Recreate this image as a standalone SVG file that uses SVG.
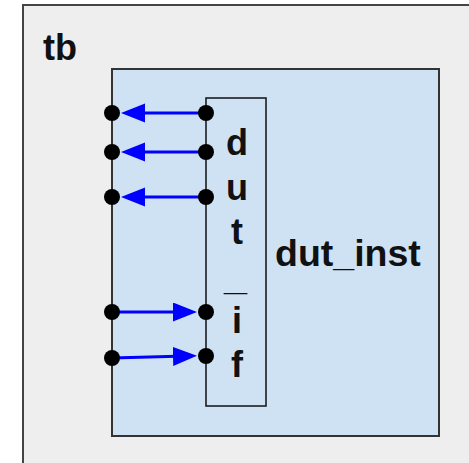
<svg xmlns="http://www.w3.org/2000/svg" width="469" height="463" viewBox="0 0 469 463">
<defs>
<style>
.lbl{font-family:"Liberation Sans",Arial,sans-serif;font-weight:bold;fill:#111}
.port{font-size:36px;text-anchor:middle}
.wire{stroke:#0000ff;stroke-width:3;fill:none}
.dot{fill:#000}
</style>
<marker id="ah" markerUnits="userSpaceOnUse" markerWidth="26" markerHeight="20" refX="4" refY="9.5" orient="auto">
<path d="M0,0 L24,9.5 L0,19 z" fill="#0000ff"/>
</marker>
</defs>
<rect width="469" height="463" fill="#ffffff"/>
<g id="tb">
<rect x="23" y="5" width="460" height="470" fill="#eeeeee" stroke="#444" stroke-width="2"/>
<text class="lbl" x="43" y="60" font-size="36">tb</text>
</g>
<g id="dut_inst">
<rect x="112" y="69" width="327" height="367" fill="#cfe2f3" stroke="#333" stroke-width="2"/>
<text class="lbl" x="275" y="266" font-size="37.5">dut_inst</text>
</g>
<g id="dut_if">
<rect x="206" y="98" width="60" height="308" fill="#cfe2f3" stroke="#111" stroke-width="1.5"/>
<text class="lbl port" x="237" y="155">d</text>
<text class="lbl port" x="237" y="200">u</text>
<text class="lbl port" x="237" y="244">t</text>
<text class="lbl port" x="224" y="290" textLength="23" lengthAdjust="spacingAndGlyphs" style="text-anchor:start">_</text>
<text class="lbl port" x="237" y="333">i</text>
<text class="lbl port" x="237" y="377">f</text>
</g>
<g id="connectors">
<line class="wire" x1="206" y1="113" x2="141" y2="113" marker-end="url(#ah)"/>
<line class="wire" x1="206" y1="152" x2="141" y2="152" marker-end="url(#ah)"/>
<line class="wire" x1="206" y1="197" x2="141" y2="197" marker-end="url(#ah)"/>
<line class="wire" x1="112" y1="312" x2="177" y2="312" marker-end="url(#ah)"/>
<line class="wire" x1="112" y1="358" x2="177" y2="356.3" marker-end="url(#ah)"/>
</g>
<g id="dots">
<circle class="dot" cx="112" cy="113" r="8"/>
<circle class="dot" cx="112" cy="152" r="8"/>
<circle class="dot" cx="112" cy="197" r="8"/>
<circle class="dot" cx="112" cy="312" r="8"/>
<circle class="dot" cx="112" cy="358" r="8"/>
<circle class="dot" cx="206" cy="113" r="8"/>
<circle class="dot" cx="206" cy="152" r="8"/>
<circle class="dot" cx="206" cy="197" r="8"/>
<circle class="dot" cx="206" cy="312" r="8"/>
<circle class="dot" cx="206" cy="356" r="8"/>
</g>
</svg>
